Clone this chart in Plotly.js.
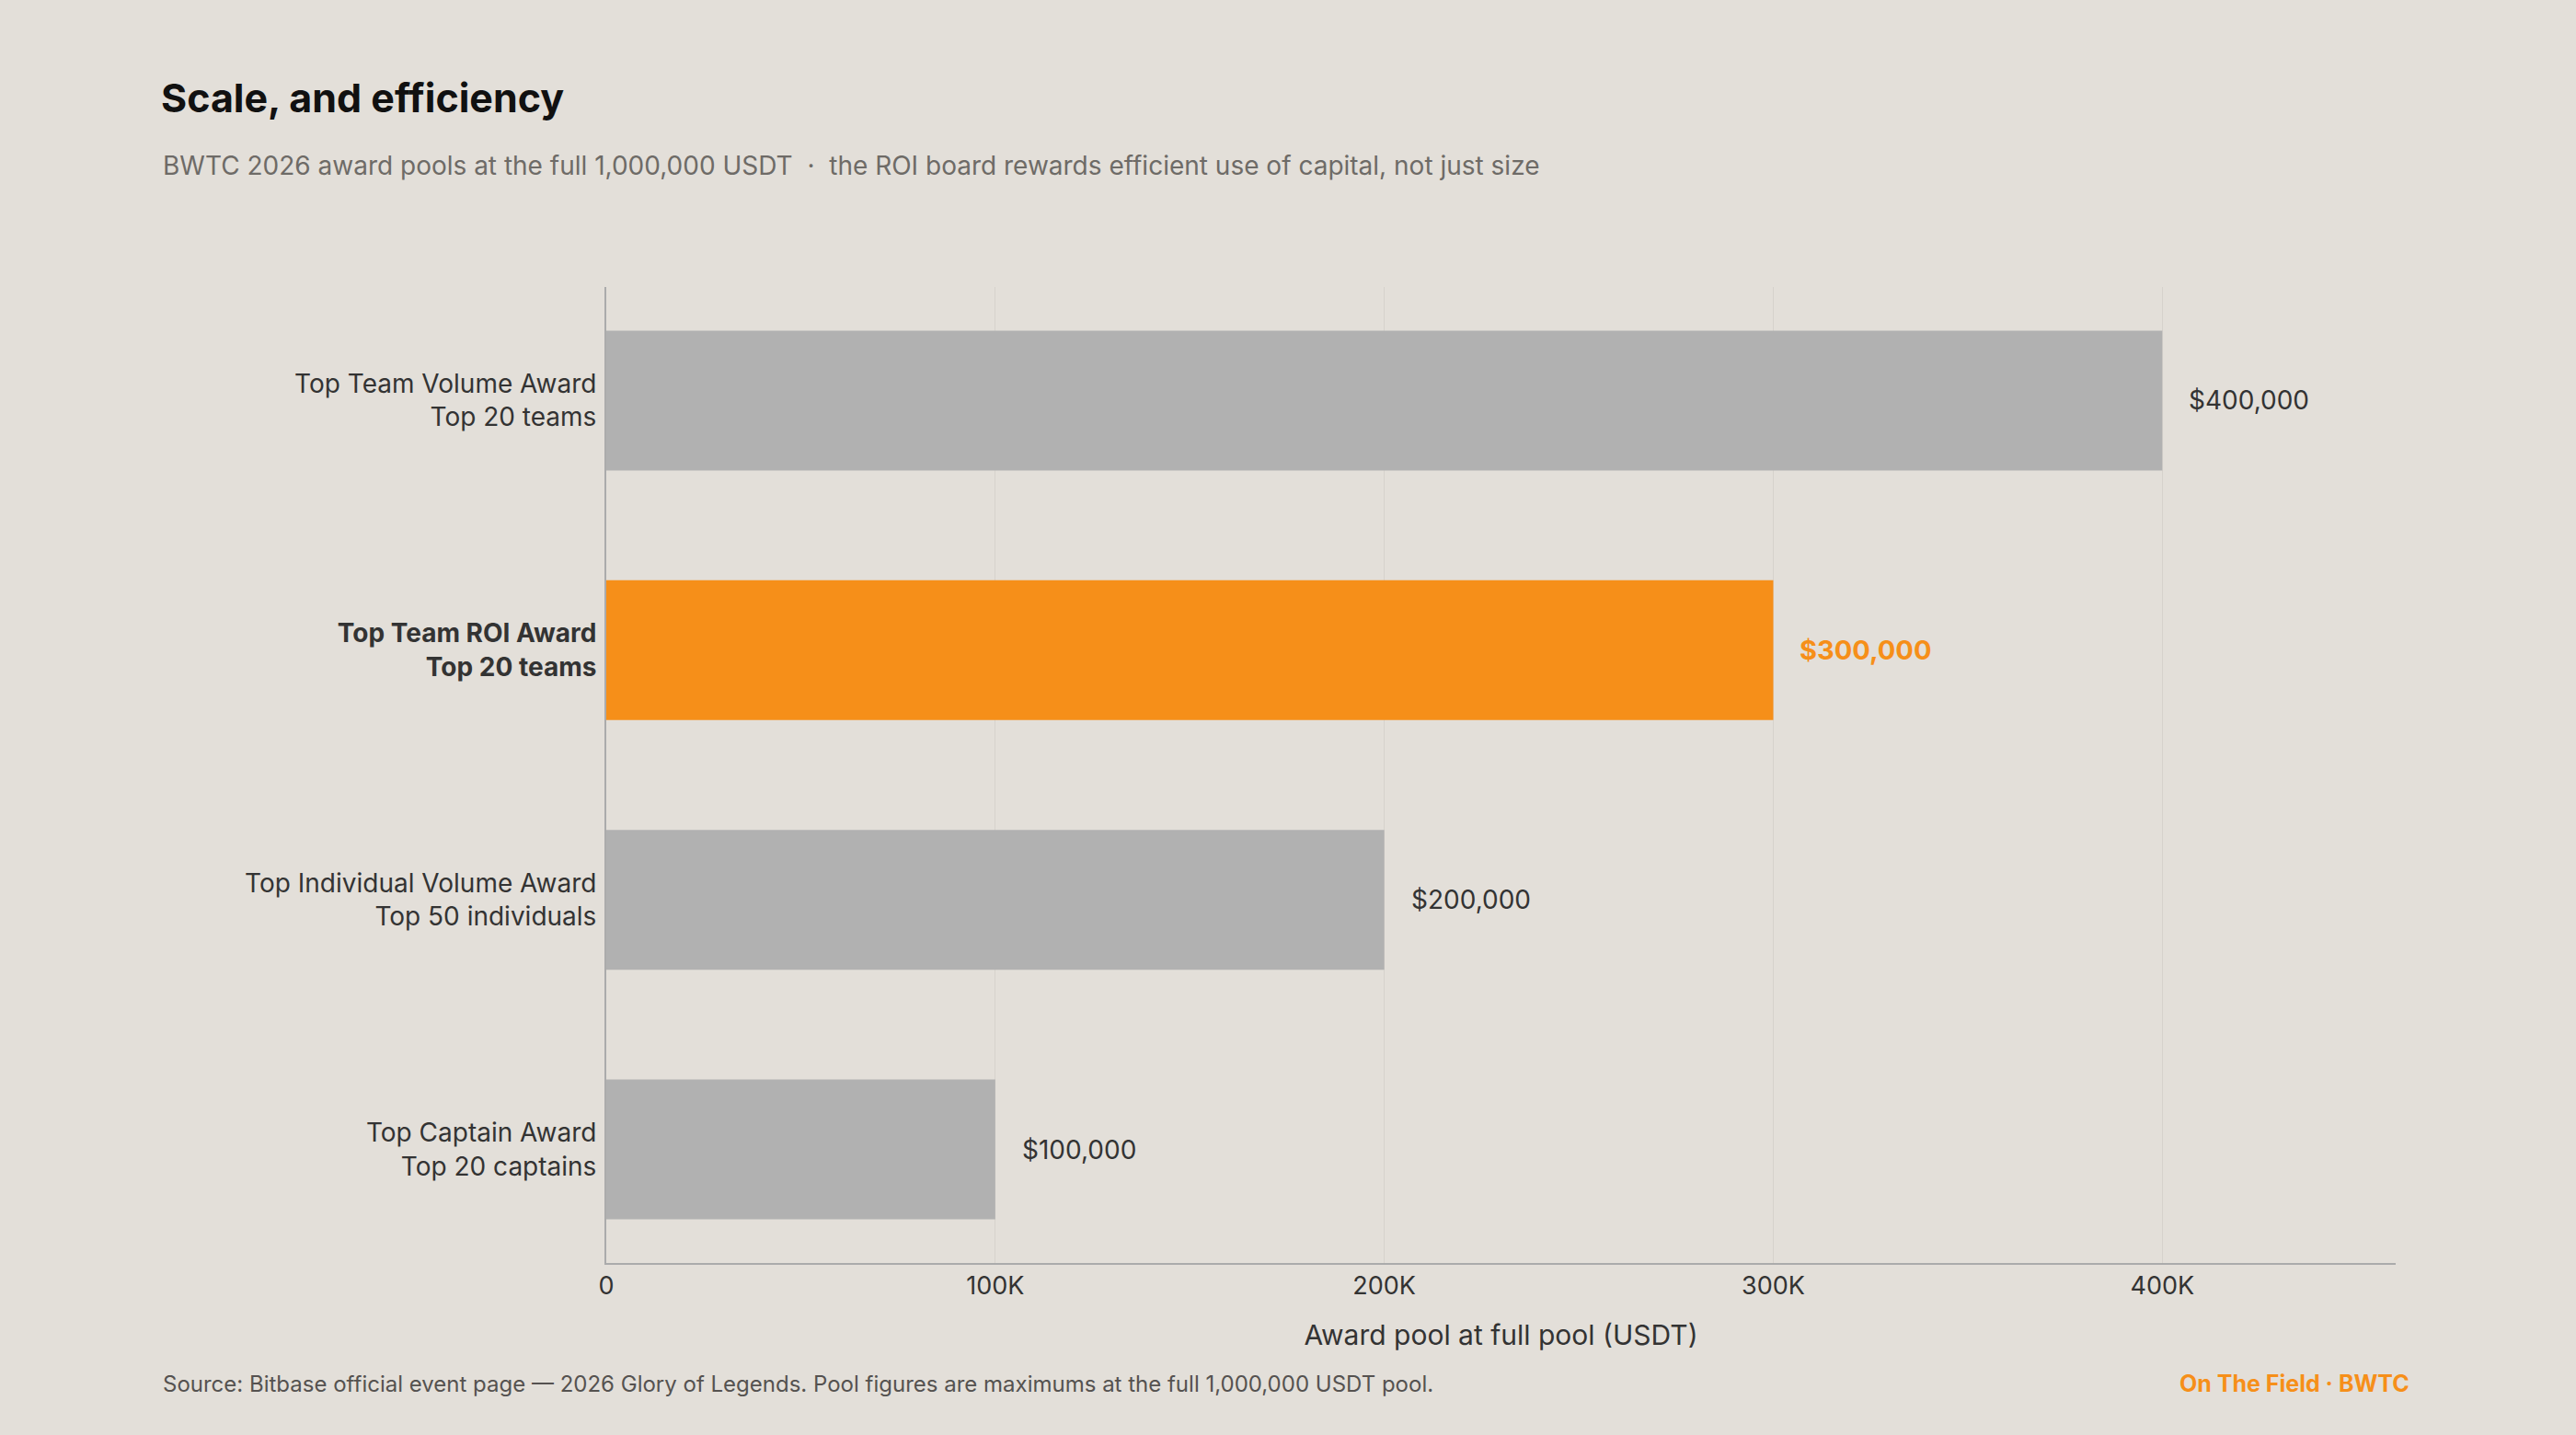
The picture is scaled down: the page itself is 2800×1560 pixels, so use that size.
<!DOCTYPE html>
<html>
<head>
<meta charset="utf-8">
<script src="https://cdn.plot.ly/plotly-3.0.1.min.js"></script>
<style>html,body{margin:0;padding:0;background:#E3DFD9;}#chart{width:2800px;height:1560px;}</style>
</head>
<body>
<div id="chart"></div>
<script>
// Data
const awardNames = ["Top Team Volume Award", "Top Team ROI Award", "Top Individual Volume Award", "Top Captain Award"];
const awardScopes = ["Top 20 teams", "Top 20 teams", "Top 50 individuals", "Top 20 captains"];
const poolValues = [400000, 300000, 200000, 100000];
const highlighted = [false, true, false, false];
const xTickVals = [0, 100000, 200000, 300000, 400000];
const xTickText = ["0", "100K", "200K", "300K", "400K"];

const FONT = "Inter, 'Open Sans', sans-serif";
const ORANGE = "#F68F19";
const GREY = "#B1B1B1";

const cats = awardNames.map((n, i) => highlighted[i] ? `<b>${n}<br>${awardScopes[i]}</b>` : `${n}<br>${awardScopes[i]}`);
const colors = highlighted.map(h => h ? ORANGE : GREY);
const fmt = v => "$" + v.toLocaleString("en-US");

const trace = {
  type: "bar",
  orientation: "h",
  x: poolValues,
  y: cats,
  width: 0.56,
  marker: {color: colors, line: {width: 0}},
  hoverinfo: "skip"
};

const annotations = poolValues.map((v, i) => ({
  x: v, y: cats[i], xref: "x", yref: "y",
  text: highlighted[i] ? `<b>${fmt(v)}</b>` : fmt(v),
  showarrow: false, xanchor: "left", yanchor: "middle", xshift: 27,
  font: {family: FONT, size: highlighted[i] ? 29 : 28, color: highlighted[i] ? ORANGE : "#333333"}
}));

annotations.push({
  xref: "paper", yref: "paper", x: -0.2488, y: 1.1244, xanchor: "left", yanchor: "middle",
  showarrow: false,
  text: "BWTC 2026 award pools at the full 1,000,000 USDT  ·  the ROI board rewards efficient use of capital, not just size",
  font: {family: FONT, size: 28, color: "#6E6B67"}
});
annotations.push({
  xref: "paper", yref: "paper", x: -0.2488, y: -0.1235, xanchor: "left", yanchor: "middle",
  showarrow: false,
  text: "Source: Bitbase official event page — 2026 Glory of Legends. Pool figures are maximums at the full 1,000,000 USDT pool.",
  font: {family: FONT, size: 24, color: "#555250"}
});
annotations.push({
  xref: "paper", yref: "paper", x: 1.0087, y: -0.1235, xanchor: "right", yanchor: "middle",
  showarrow: false,
  text: "<b>On The Field · BWTC</b>",
  font: {family: FONT, size: 25, color: ORANGE}
});

const layout = {
  width: 2800, height: 1560,
  paper_bgcolor: "#E3DFD9", plot_bgcolor: "#E3DFD9",
  margin: {l: 659, r: 196, t: 312, b: 187, pad: 0},
  showlegend: false,
  title: {
    text: "<b>Scale, and efficiency</b>",
    x: 175 / 2800, xref: "container", xanchor: "left",
    y: 1 - 107 / 1560, yref: "container", yanchor: "middle",
    font: {family: FONT, size: 43, color: "#111111"}
  },
  xaxis: {
    range: [0, 460000],
    tickvals: xTickVals, ticktext: xTickText,
    showgrid: true, gridcolor: "#D6D2CC", gridwidth: 1,
    zeroline: false,
    showline: true, linecolor: "#ABABAB", linewidth: 2,
    ticks: "", tickfont: {family: FONT, size: 27, color: "#333333"},
    title: {text: "Award pool at full pool (USDT)", font: {family: FONT, size: 30, color: "#333333"}, standoff: 28},
    fixedrange: true
  },
  yaxis: {
    type: "category",
    range: [3.455, -0.455],
    showgrid: false, zeroline: false,
    showline: true, linecolor: "#ABABAB", linewidth: 2,
    ticks: "", ticklabelstandoff: 3,
    tickfont: {family: FONT, size: 28, color: "#333333"},
    fixedrange: true
  },
  annotations: annotations
};

Plotly.newPlot("chart", [trace], layout, {displayModeBar: false, staticPlot: true});
</script>
</body>
</html>
